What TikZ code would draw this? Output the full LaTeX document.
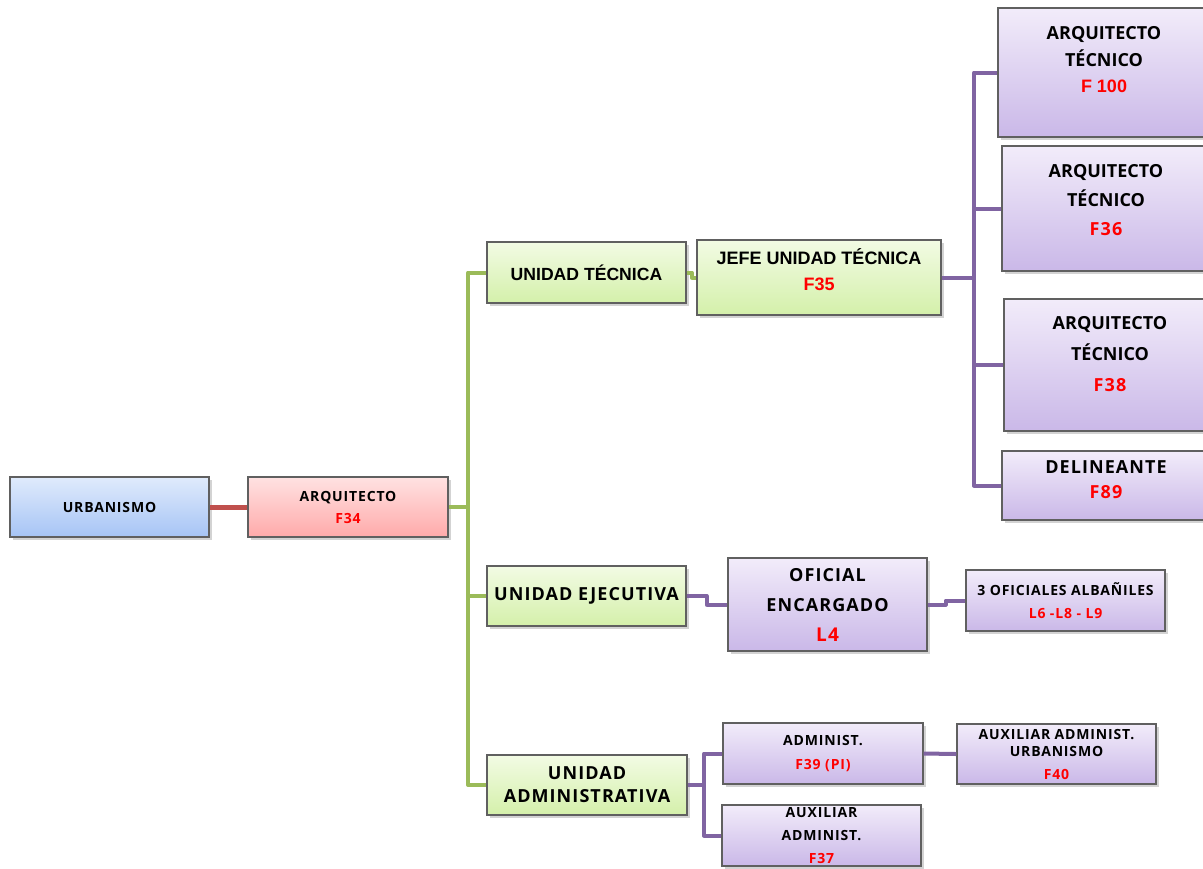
\documentclass[tikz,border=0pt]{standalone}
\usepackage{fontspec}
\setmainfont{Open Sans}[LetterSpace=6]
\newfontfamily\segoe{Open Sans}
\newfontfamily\arialf{Liberation Sans}
\usetikzlibrary{shadows}
\definecolor{AzA}{RGB}{224,235,252}
\definecolor{AzB}{RGB}{166,196,245}
\definecolor{RoA}{RGB}{255,226,226}
\definecolor{RoB}{RGB}{255,170,170}
\definecolor{VeA}{RGB}{242,251,228}
\definecolor{VeB}{RGB}{212,240,170}
\definecolor{MoA}{RGB}{242,236,250}
\definecolor{MoB}{RGB}{202,184,232}
\definecolor{LR}{RGB}{192,80,77}
\definecolor{LV}{RGB}{155,187,89}
\definecolor{LM}{RGB}{128,100,162}
\definecolor{Rj}{RGB}{255,0,0}
\newcommand{\rj}[1]{\textcolor{Rj}{#1}}

\tikzset{
  caja/.style={rectangle, draw=gray!75!black, line width=0.6pt, align=center, inner sep=0pt,
    drop shadow={opacity=0.35, shadow xshift=1.5pt, shadow yshift=-1.5pt}},
  tam/.style 2 args={minimum width=#1*0.5pt, minimum height=#2*0.5pt},
  azul/.style={caja, top color=AzA, bottom color=AzB},
  rosa/.style={caja, top color=RoA, bottom color=RoB},
  verde/.style={caja, top color=VeA, bottom color=VeB},
  morado/.style={caja, top color=MoA, bottom color=MoB},
  tg/.style={font=\bfseries\fontsize{9}{#1}\selectfont},
  tp/.style={font=\bfseries\fontsize{7}{#1}\selectfont},
  sube/.style={text depth=#1},
  lr/.style={draw=LR, line width=2.5pt},
  lv/.style={draw=LV, line width=2pt, line join=round},
  lm/.style={draw=LM, line width=2pt, line join=round}
}

\begin{document}
\begin{tikzpicture}[x=0.5pt, y=-0.5pt]
   \useasboundingbox (0,0) rectangle (1203,868);
   \clip (0,0) rectangle (1203,868);

   %Cajas de la izquierda
   \node[azul, tam={199}{60}, tp=11] (urb) at (109.5,507) {URBANISMO};
   \node[rosa, tam={200}{60}, tp=11] (arq) at (348,507) {ARQUITECTO\\\rj{F34}};

   %Unidades
   \node[verde, tam={199}{61}, font=\arialf\bfseries\fontsize{8.8}{13}\selectfont] (ut) at (586.5,272.5) {UNIDAD TÉCNICA};
   \node[verde, tam={199}{60}, tg=13] (ue) at (586.5,596) {UNIDAD EJECUTIVA};
   \node[verde, tam={200}{60}, tg=11.5] (ua) at (587,785) {UNIDAD\\ADMINISTRATIVA};

   %Unidad tecnica
   \node[verde, tam={244}{75}, font=\arialf\bfseries\fontsize{9}{13}\selectfont, sube=7.5pt] (jefe) at (819,277.5) {JEFE UNIDAD TÉCNICA\\\rj{F35}};
   \node[morado, tam={212}{129}, tg=13.25, sube=13pt] (at1) at (1104,72.5) {\segoe ARQUITECTO\\\segoe TÉCNICO\\\rj{\arialf F 100}};
   \node[morado, tam={208}{125}, tg=14.5, sube=8.5pt] (at2) at (1106,208.5) {\segoe ARQUITECTO\\\segoe TÉCNICO\\\rj{F36}};
   \node[morado, tam={212}{132}, tg=15.5, sube=11pt] (at3) at (1110,365) {\segoe ARQUITECTO\\\segoe TÉCNICO\\\rj{F38}};
   \node[morado, tam={208}{69}, tg=12.5, sube=6pt] (del) at (1106,485.5) {DELINEANTE\\\rj{F89}};

   %Unidad ejecutiva
   \node[morado, tam={199}{93}, tg=15] (of) at (827.5,604.5) {OFICIAL\\ENCARGADO\\\rj{\fontsize{9.5}{15}\selectfont L4}};
   \node[morado, tam={199}{61}, tp=11.5] (alb) at (1065.5,600.5) {3 OFICIALES ALBAÑILES\\\rj{L6 -L8 - L9}};

   %Unidad administrativa
   \node[morado, tam={200}{61}, tp=12] (adm) at (823,753.5) {ADMINIST.\\\rj{F39 (PI)}};
   \node[morado, tam={199}{61}, tp=11.5] (aux) at (821.5,835.5) {AUXILIAR\\ADMINIST.\\\rj{F37}};
   \node[morado, tam={199}{60}, tp=8.5] (auxu) at (1056.5,754) {AUXILIAR ADMINIST.\\URBANISMO\\[3pt]\rj{F40}};

   %Conectores
   \draw[lr] (urb.east) -- (arq.west);

   \coordinate (tv) at (468,507);
   \draw[lv] (arq.east) -- (tv);
   \foreach \u in {ut,ue,ua}
      \draw[lv] (tv) |- (\u.west);
   \draw[lv] (ut.east) -- ++(5,0) |- (jefe.west);

   \coordinate (tm) at (974,277.5);
   \draw[lm] (jefe.east) -- (tm);
   \foreach \u in {at1,at2,at3,del}
      \draw[lm] (tm) |- (\u.west);

   \draw[lm] (ue.east) -- ++(20,0) |- (of.west);
   \draw[lm] (of.east) -- ++(18,0) |- (alb.west);

   \coordinate (ta) at (704,785);
   \draw[lm] (ua.east) -- (ta);
   \foreach \u in {adm,aux}
      \draw[lm] (ta) |- (\u.west);
   \draw[lm] (adm.east) -- (auxu.west);
\end{tikzpicture}
\end{document}
